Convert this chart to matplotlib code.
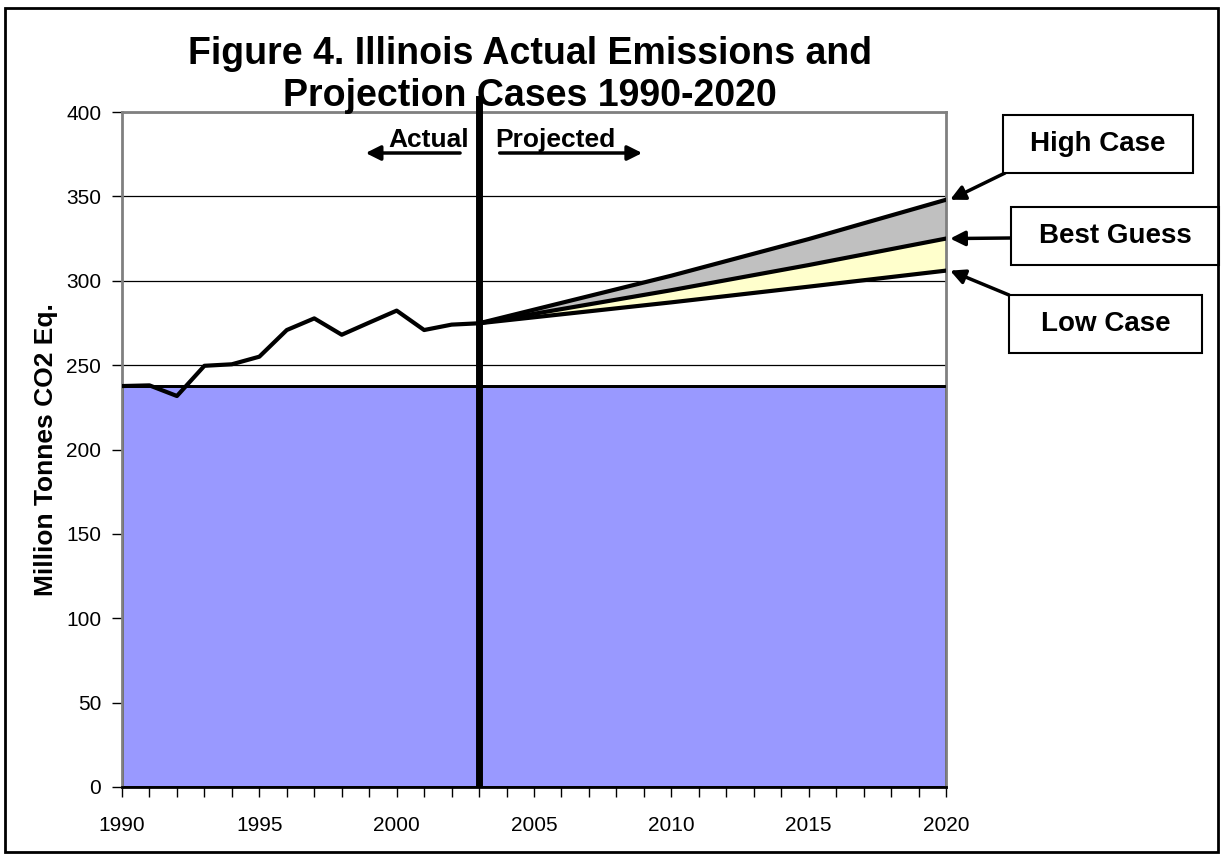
import matplotlib
matplotlib.use("Agg")
import matplotlib.pyplot as plt
from matplotlib.patches import Rectangle

plt.rcParams['font.family'] = ['Liberation Sans', 'DejaVu Sans']

# Actual emissions 1990-2003 (million tonnes CO2 eq.)
years_actual = [1990, 1991, 1992, 1993, 1994, 1995, 1996, 1997, 1998, 1999,
                2000, 2001, 2002, 2003]
actual = [237.6, 238.0, 231.7, 249.6, 250.5, 255.0, 270.8, 277.7, 268.0, 275.2,
          282.3, 270.8, 274.0, 274.8]

# Projection cases 2003-2020
years_proj = [2003, 2010, 2015, 2020]
high_case = [274.8, 303.0, 324.7, 348.0]
best_guess = [274.8, 294.4, 309.3, 325.0]
low_case = [274.8, 287.2, 296.5, 306.0]

# 1990 baseline level (shaded)
base_years = [1990, 2020]
base_level = [237.6, 237.6]

W, H = 1225, 860


def px(x, y):
    # figure pixels (from top-left) -> figure fraction
    return (x / W, 1 - y / H)


fig = plt.figure(figsize=(W / 100, H / 100), dpi=100)
ax = fig.add_axes([122 / W, 1 - 787 / H, (946 - 122) / W, (787 - 112) / H])

ax.fill_between(base_years, 0, base_level, color='#9999FF', zorder=2,
                edgecolor='black', linewidth=2)
ax.plot(base_years, base_level, color='black', lw=2, zorder=3)

ax.fill_between(years_proj, best_guess, high_case, color='#C0C0C0', lw=0, zorder=2)
ax.fill_between(years_proj, low_case, best_guess, color='#FFFFCC', lw=0, zorder=2)
for s in (high_case, best_guess, low_case):
    ax.plot(years_proj, s, color='black', lw=3, zorder=4)
ax.plot(years_actual, actual, color='black', lw=3, zorder=4)

ax.axvline(2003, ymin=0.005, ymax=1.02, color='black', lw=5, zorder=5, clip_on=False)

ax.set_xlim(1990, 2020)
ax.set_ylim(0, 400)
ax.set_yticks(range(0, 401, 50))
ax.set_xticks(range(1990, 2021))
ax.set_xticklabels([str(y) if y % 5 == 0 else '' for y in range(1990, 2021)])
ax.tick_params(axis='both', direction='out', length=7, width=1, labelsize=15)
ax.tick_params(axis='x', pad=14)
ax.tick_params(axis='y', pad=8)
ax.yaxis.grid(True, color='black', lw=0.9)
ax.set_axisbelow(True)
for side in ('top', 'right', 'left'):
    ax.spines[side].set_color('#808080')
    ax.spines[side].set_linewidth(2)
ax.spines['bottom'].set_linewidth(2)

ax.set_ylabel('Million Tonnes CO2 Eq.', fontsize=19, fontweight='bold', labelpad=6)

# Actual / Projected arrows
ax.annotate('', xy=(1998.77, 375.7), xytext=(2002.41, 375.7),
            arrowprops=dict(arrowstyle='-|>', color='black', lw=2.5, mutation_scale=22))
ax.annotate('', xy=(2009.04, 375.7), xytext=(2003.65, 375.7),
            arrowprops=dict(arrowstyle='-|>', color='black', lw=2.5, mutation_scale=22))
ax.text(2002.63, 379.5, 'Actual', ha='right', va='baseline', fontsize=19, fontweight='bold')
ax.text(2003.6, 379.5, 'Projected', ha='left', va='baseline', fontsize=19, fontweight='bold')

# Title
fig.text(*px(530, 75), 'Figure 4. Illinois Actual Emissions and\nProjection Cases 1990-2020',
         ha='center', va='center', fontsize=27, fontweight='bold', linespacing=1.25)

# Case boxes with arrows
boxes = [
    ('High Case', (1003, 115, 1193, 173), (1005, 173), high_case[-1]),
    ('Best Guess', (1011, 207, 1219, 265), (1011, 238), best_guess[-1]),
    ('Low Case', (1009, 295, 1202, 353), (1009, 295), low_case[-1]),
]
for label, (x0, y0, x1, y1), tail, val in boxes:
    fx0, fy1 = px(x0, y1)
    rect = Rectangle((fx0, fy1), (x1 - x0) / W, (y1 - y0) / H, transform=fig.transFigure,
                     facecolor='white', edgecolor='black', lw=1.5)
    fig.patches.append(rect)
    fig.text(*px((x0 + x1) / 2, (y0 + y1) / 2), label, ha='center', va='center',
             fontsize=20, fontweight='bold')
    ax.annotate('', xy=(2020.15, val), xycoords='data',
                xytext=px(*tail), textcoords='figure fraction', annotation_clip=False,
                arrowprops=dict(arrowstyle='-|>', color='black', lw=2.5, mutation_scale=22,
                                shrinkA=0, shrinkB=0))

# Outer border
fig.patches.append(Rectangle(px(5, 852), (1218 - 5) / W, (852 - 8) / H, transform=fig.transFigure,
                             fill=False, edgecolor='black', lw=2))

fig.savefig('out.png', dpi=100)
